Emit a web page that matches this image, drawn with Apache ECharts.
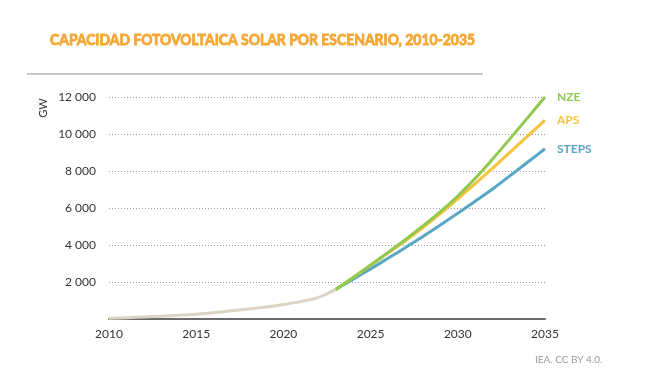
<!DOCTYPE html>
<html><head><meta charset="utf-8">
<script src="https://cdn.jsdelivr.net/npm/echarts@6/dist/echarts.min.js"></script>
<style>html,body{margin:0;padding:0;background:#fff}#c{width:650px;height:383px}</style>
</head><body><div id="c"></div>
<script>
const histYears = [2010,2011,2012,2013,2014,2015,2016,2017,2018,2019,2020,2021,2022,2023];
const histValues = [40,70,110,150,200,260,340,440,540,650,780,940,1160,1600];
const projYears = [2023,2024,2025,2026,2027,2028,2029,2030,2031,2032,2033,2034,2035];
const steps = [1600,2150,2710,3280,3860,4460,5080,5720,6370,7030,7750,8470,9200];
const aps   = [1600,2240,2900,3560,4230,4940,5700,6500,7320,8160,9020,9880,10750];
const nze   = [1600,2250,2920,3600,4300,5030,5800,6650,7600,8650,9750,10870,12000];
const yTicks = [0,2000,4000,6000,8000,10000,12000];
const xTicks = [2010,2015,2020,2025,2030,2035];

const pair = (xs, ys) => xs.map((x,i)=>[x, ys[i]]);
const fmtNum = v => v === 0 ? '' : String(v).replace(/\B(?=(\d{3})+(?!\d))/g, ' ');
const FONT = 'Lato';

function proj(name, data, color){
  return {
    name, type:'line', data: pair(projYears, data), smooth:0.25, showSymbol:false,
    lineStyle:{color, width:3}, z:3,
    endLabel:{show:true, formatter:name, color, fontFamily:FONT, fontWeight:'bold', fontSize:12, distance:12}
  };
}

const chart = echarts.init(document.getElementById('c'));
chart.setOption({
  animation:false,
  textStyle:{fontFamily:FONT},
  grid:{left:109, right:105, top:97, bottom:64},
  xAxis:{type:'value', min:xTicks[0], max:xTicks[xTicks.length-1], interval:5,
    axisLine:{show:true, lineStyle:{color:'#6b6b6b', width:2}},
    axisTick:{show:false}, splitLine:{show:false},
    axisLabel:{color:'#333', fontSize:12, margin:9, formatter:v=>String(v)}},
  yAxis:{type:'value', min:yTicks[0], max:yTicks[yTicks.length-1], interval:2000,
    axisLine:{show:false}, axisTick:{show:false},
    splitLine:{show:true, lineStyle:{color:'#9a9a9a', type:[1,2], width:1}},
    axisLabel:{color:'#333', fontSize:12, margin:13, formatter:fmtNum}},
  graphic:[
    {type:'text', x:50, y:40, scaleX:0.87, style:{text:'CAPACIDAD FOTOVOLTAICA SOLAR POR ESCENARIO, 2010-2035', fill:'#f6a733', stroke:'#f6a733', lineWidth:0.9, font:'bold 16px '+FONT, textVerticalAlign:'middle'}},
    {type:'line', shape:{x1:27, y1:74, x2:483, y2:74}, style:{stroke:'#b5b5b5', lineWidth:1.5}},
    {type:'text', x:43, y:108, rotation:Math.PI/2, style:{text:'GW', fill:'#333', font:'11px '+FONT, textAlign:'center', textVerticalAlign:'middle'}},
    {type:'text', left:535, top:355, style:{text:'IEA. CC BY 4.0.', fill:'#9a9a9a', font:'10px '+FONT}}
  ],
  series:[
    {name:'hist', type:'line', data:pair(histYears, histValues), smooth:0.3, showSymbol:false,
      lineStyle:{color:'#d9d4c3', width:3}, z:2},
    proj('STEPS', steps, '#58a6c4'),
    proj('APS', aps, '#f8c33c'),
    proj('NZE', nze, '#92c950')
  ]
});
</script></body></html>
